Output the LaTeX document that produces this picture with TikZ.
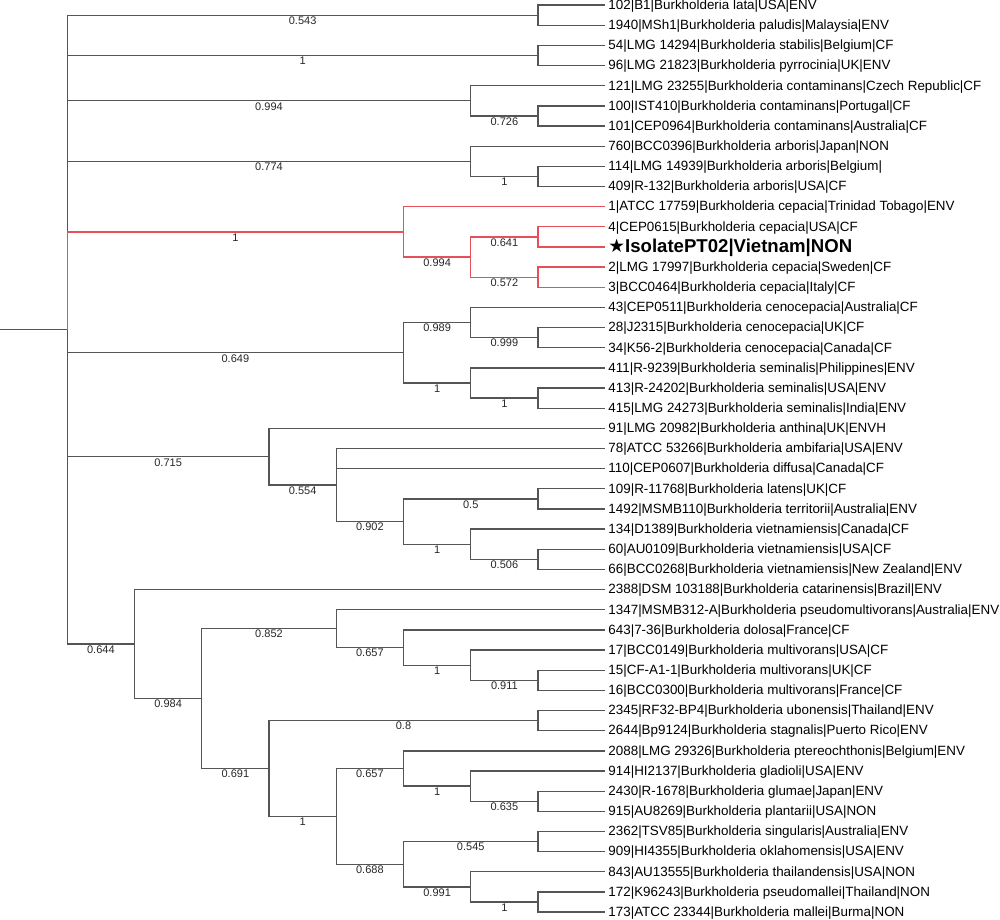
\documentclass[tikz,border=0pt]{standalone}
\usepackage{fontspec}
\setmainfont{Liberation Sans}
\newfontfamily\symfont{DejaVu Sans}
\usepackage{tikz}

\definecolor{treegray}{HTML}{555555}
\definecolor{treered}{HTML}{E5505A}

\begin{document}
\begin{tikzpicture}[x=1pt, y=-1pt,
	br/.style={draw=treegray, line width=1.3pt},
	redbr/.style={draw=treered, line width=1.3pt},
	bs/.style={below, pos=0.75, inner sep=1pt, text=black!85, font=\fontsize{11}{11}\selectfont},
	leaf/.style={anchor=base west, inner sep=0pt, xshift=3pt, yshift=-4.3pt, font=\fontsize{13.4}{14}\selectfont}]
	\useasboundingbox (0,0) rectangle (1000,919); % Rand um Grafik
	
	% Blaetter
	\foreach \i in {1,...,46}
		\coordinate (l\i) at (605.25, {5.1+20.155*(\i-1)});
	
	\foreach \i/\txt in {
		1/{102|B1|Burkholderia lata|USA|ENV},
		2/{1940|MSh1|Burkholderia paludis|Malaysia|ENV},
		3/{54|LMG 14294|Burkholderia stabilis|Belgium|CF},
		4/{96|LMG 21823|Burkholderia pyrrocinia|UK|ENV},
		5/{121|LMG 23255|Burkholderia contaminans|Czech Republic|CF},
		6/{100|IST410|Burkholderia contaminans|Portugal|CF},
		7/{101|CEP0964|Burkholderia contaminans|Australia|CF},
		8/{760|BCC0396|Burkholderia arboris|Japan|NON},
		9/{114|LMG 14939|Burkholderia arboris|Belgium|},
		10/{409|R-132|Burkholderia arboris|USA|CF},
		11/{1|ATCC 17759|Burkholderia cepacia|Trinidad Tobago|ENV},
		12/{4|CEP0615|Burkholderia cepacia|USA|CF},
		14/{2|LMG 17997|Burkholderia cepacia|Sweden|CF},
		15/{3|BCC0464|Burkholderia cepacia|Italy|CF},
		16/{43|CEP0511|Burkholderia cenocepacia|Australia|CF},
		17/{28|J2315|Burkholderia cenocepacia|UK|CF},
		18/{34|K56-2|Burkholderia cenocepacia|Canada|CF},
		19/{411|R-9239|Burkholderia seminalis|Philippines|ENV},
		20/{413|R-24202|Burkholderia seminalis|USA|ENV},
		21/{415|LMG 24273|Burkholderia seminalis|India|ENV},
		22/{91|LMG 20982|Burkholderia anthina|UK|ENVH},
		23/{78|ATCC 53266|Burkholderia ambifaria|USA|ENV},
		24/{110|CEP0607|Burkholderia diffusa|Canada|CF},
		25/{109|R-11768|Burkholderia latens|UK|CF},
		26/{1492|MSMB110|Burkholderia territorii|Australia|ENV},
		27/{134|D1389|Burkholderia vietnamiensis|Canada|CF},
		28/{60|AU0109|Burkholderia vietnamiensis|USA|CF},
		29/{66|BCC0268|Burkholderia vietnamiensis|New Zealand|ENV},
		30/{2388|DSM 103188|Burkholderia catarinensis|Brazil|ENV},
		31/{1347|MSMB312-A|Burkholderia pseudomultivorans|Australia|ENV},
		32/{643|7-36|Burkholderia dolosa|France|CF},
		33/{17|BCC0149|Burkholderia multivorans|USA|CF},
		34/{15|CF-A1-1|Burkholderia multivorans|UK|CF},
		35/{16|BCC0300|Burkholderia multivorans|France|CF},
		36/{2345|RF32-BP4|Burkholderia ubonensis|Thailand|ENV},
		37/{2644|Bp9124|Burkholderia stagnalis|Puerto Rico|ENV},
		38/{2088|LMG 29326|Burkholderia ptereochthonis|Belgium|ENV},
		39/{914|HI2137|Burkholderia gladioli|USA|ENV},
		40/{2430|R-1678|Burkholderia glumae|Japan|ENV},
		41/{915|AU8269|Burkholderia plantarii|USA|NON},
		42/{2362|TSV85|Burkholderia singularis|Australia|ENV},
		43/{909|HI4355|Burkholderia oklahomensis|USA|ENV},
		44/{843|AU13555|Burkholderia thailandensis|USA|NON},
		45/{172|K96243|Burkholderia pseudomallei|Thailand|NON},
		46/{173|ATCC 23344|Burkholderia mallei|Burma|NON}}
		\node[leaf] (t\i) at (l\i) {\txt};
	\node[leaf, yshift=-1.2pt, font=\fontsize{18.6}{19}\selectfont\bfseries] (t13) at (l13) {{\symfont ★}IsolatePT02|Vietnam|NON};
	
	% innere Knoten
	\coordinate (r0) at (0,329.64);
	\coordinate (r) at (67.25,329.64);
	\coordinate (nA) at (538,15.18);
	\coordinate (nB) at (538,55.49);
	\coordinate (nC1) at (538,115.96);
	\coordinate (nC) at (470.75,100.84);
	\coordinate (nD1) at (538,176.42);
	\coordinate (nD) at (470.75,161.3);
	\coordinate (nE1) at (538,236.88);
	\coordinate (nE2) at (538,277.2);
	\coordinate (nE3) at (470.75,257.04);
	\coordinate (nE) at (403.5,231.85);
	\coordinate (nF1) at (538,337.66);
	\coordinate (nF2) at (470.75,322.55);
	\coordinate (nF3) at (538,398.13);
	\coordinate (nF4) at (470.75,383.01);
	\coordinate (nF) at (403.5,352.78);
	\coordinate (nG1) at (538,498.9);
	\coordinate (nG2) at (538,559.37);
	\coordinate (nG3) at (470.75,544.25);
	\coordinate (nG4) at (403.5,521.58);
	\coordinate (nG5) at (336.25,485.05);
	\coordinate (nG) at (269,456.7);
	\coordinate (nH1) at (538,680.3);
	\coordinate (nH2) at (470.75,665.18);
	\coordinate (nH3) at (403.5,647.54);
	\coordinate (nH4) at (336.25,628.65);
	\coordinate (nH5) at (538,720.6);
	\coordinate (nH6) at (538,801.23);
	\coordinate (nH7) at (470.75,786.11);
	\coordinate (nH8) at (403.5,768.48);
	\coordinate (nH9) at (538,841.54);
	\coordinate (nH10) at (538,902);
	\coordinate (nH11) at (470.75,886.89);
	\coordinate (nH12) at (403.5,864.22);
	\coordinate (nH13) at (336.25,816.35);
	\coordinate (nH14) at (269,768.48);
	\coordinate (nH15) at (201.75,698.57);
	\coordinate (nH) at (134.5,644.09);
	
	% Wurzel
	\draw[br] (r0) -- (r);
	\draw[br] (r) |- node[bs]{0.543} (nA);
	\draw[br] (r) |- node[bs]{1} (nB);
	\draw[br] (r) |- node[bs]{0.994} (nC);
	\draw[br] (r) |- node[bs]{0.774} (nD);
	\draw[br] (r) |- node[bs]{0.649} (nF);
	\draw[br] (r) |- node[bs]{0.715} (nG);
	\draw[br] (r) |- node[bs]{0.644} (nH);
	\draw[redbr] (r) |- node[bs]{1} (nE);
	
	% obere Gruppen
	\draw[br] (nA) |- (l1);
	\draw[br] (nA) |- (l2);
	\draw[br] (nB) |- (l3);
	\draw[br] (nB) |- (l4);
	\draw[br] (nC) |- (l5);
	\draw[br] (nC) |- node[bs]{0.726} (nC1);
	\draw[br] (nC1) |- (l6);
	\draw[br] (nC1) |- (l7);
	\draw[br] (nD) |- (l8);
	\draw[br] (nD) |- node[bs]{1} (nD1);
	\draw[br] (nD1) |- (l9);
	\draw[br] (nD1) |- (l10);
	
	% B. cepacia (rot)
	\draw[redbr] (nE) |- (l11);
	\draw[redbr] (nE) |- node[bs]{0.994} (nE3);
	\draw[redbr] (nE3) |- node[bs]{0.641} (nE1);
	\draw[redbr] (nE3) |- node[bs]{0.572} (nE2);
	\draw[redbr] (nE1) |- (l12);
	\draw[redbr] (nE1) |- (l13);
	\draw[redbr] (nE2) |- (l14);
	\draw[redbr] (nE2) |- (l15);
	
	% cenocepacia / seminalis
	\draw[br] (nF) |- node[bs]{0.989} (nF2);
	\draw[br] (nF) |- node[bs]{1} (nF4);
	\draw[br] (nF2) |- (l16);
	\draw[br] (nF2) |- node[bs]{0.999} (nF1);
	\draw[br] (nF1) |- (l17);
	\draw[br] (nF1) |- (l18);
	\draw[br] (nF4) |- (l19);
	\draw[br] (nF4) |- node[bs]{1} (nF3);
	\draw[br] (nF3) |- (l20);
	\draw[br] (nF3) |- (l21);
	
	% anthina ... vietnamiensis
	\draw[br] (nG) |- (l22);
	\draw[br] (nG) |- node[bs]{0.554} (nG5);
	\draw[br] (nG5) |- (l23);
	\draw[br] (nG5) |- (l24);
	\draw[br] (nG5) |- node[bs]{0.902} (nG4);
	\draw[br] (nG4) |- node[bs]{0.5} (nG1);
	\draw[br] (nG4) |- node[bs]{1} (nG3);
	\draw[br] (nG1) |- (l25);
	\draw[br] (nG1) |- (l26);
	\draw[br] (nG3) |- (l27);
	\draw[br] (nG3) |- node[bs]{0.506} (nG2);
	\draw[br] (nG2) |- (l28);
	\draw[br] (nG2) |- (l29);
	
	% untere Gruppe
	\draw[br] (nH) |- (l30);
	\draw[br] (nH) |- node[bs]{0.984} (nH15);
	\draw[br] (nH15) |- node[bs]{0.852} (nH4);
	\draw[br] (nH15) |- node[bs]{0.691} (nH14);
	\draw[br] (nH4) |- (l31);
	\draw[br] (nH4) |- node[bs]{0.657} (nH3);
	\draw[br] (nH3) |- (l32);
	\draw[br] (nH3) |- node[bs]{1} (nH2);
	\draw[br] (nH2) |- (l33);
	\draw[br] (nH2) |- node[bs]{0.911} (nH1);
	\draw[br] (nH1) |- (l34);
	\draw[br] (nH1) |- (l35);
	\draw[br] (nH14) |- node[bs]{0.8} (nH5);
	\draw[br] (nH14) |- node[bs]{1} (nH13);
	\draw[br] (nH5) |- (l36);
	\draw[br] (nH5) |- (l37);
	\draw[br] (nH13) |- node[bs]{0.657} (nH8);
	\draw[br] (nH13) |- node[bs]{0.688} (nH12);
	\draw[br] (nH8) |- (l38);
	\draw[br] (nH8) |- node[bs]{1} (nH7);
	\draw[br] (nH7) |- (l39);
	\draw[br] (nH7) |- node[bs]{0.635} (nH6);
	\draw[br] (nH6) |- (l40);
	\draw[br] (nH6) |- (l41);
	\draw[br] (nH12) |- node[bs]{0.545} (nH9);
	\draw[br] (nH12) |- node[bs]{0.991} (nH11);
	\draw[br] (nH9) |- (l42);
	\draw[br] (nH9) |- (l43);
	\draw[br] (nH11) |- (l44);
	\draw[br] (nH11) |- node[bs]{1} (nH10);
	\draw[br] (nH10) |- (l45);
	\draw[br] (nH10) |- (l46);
\end{tikzpicture}
\end{document}
